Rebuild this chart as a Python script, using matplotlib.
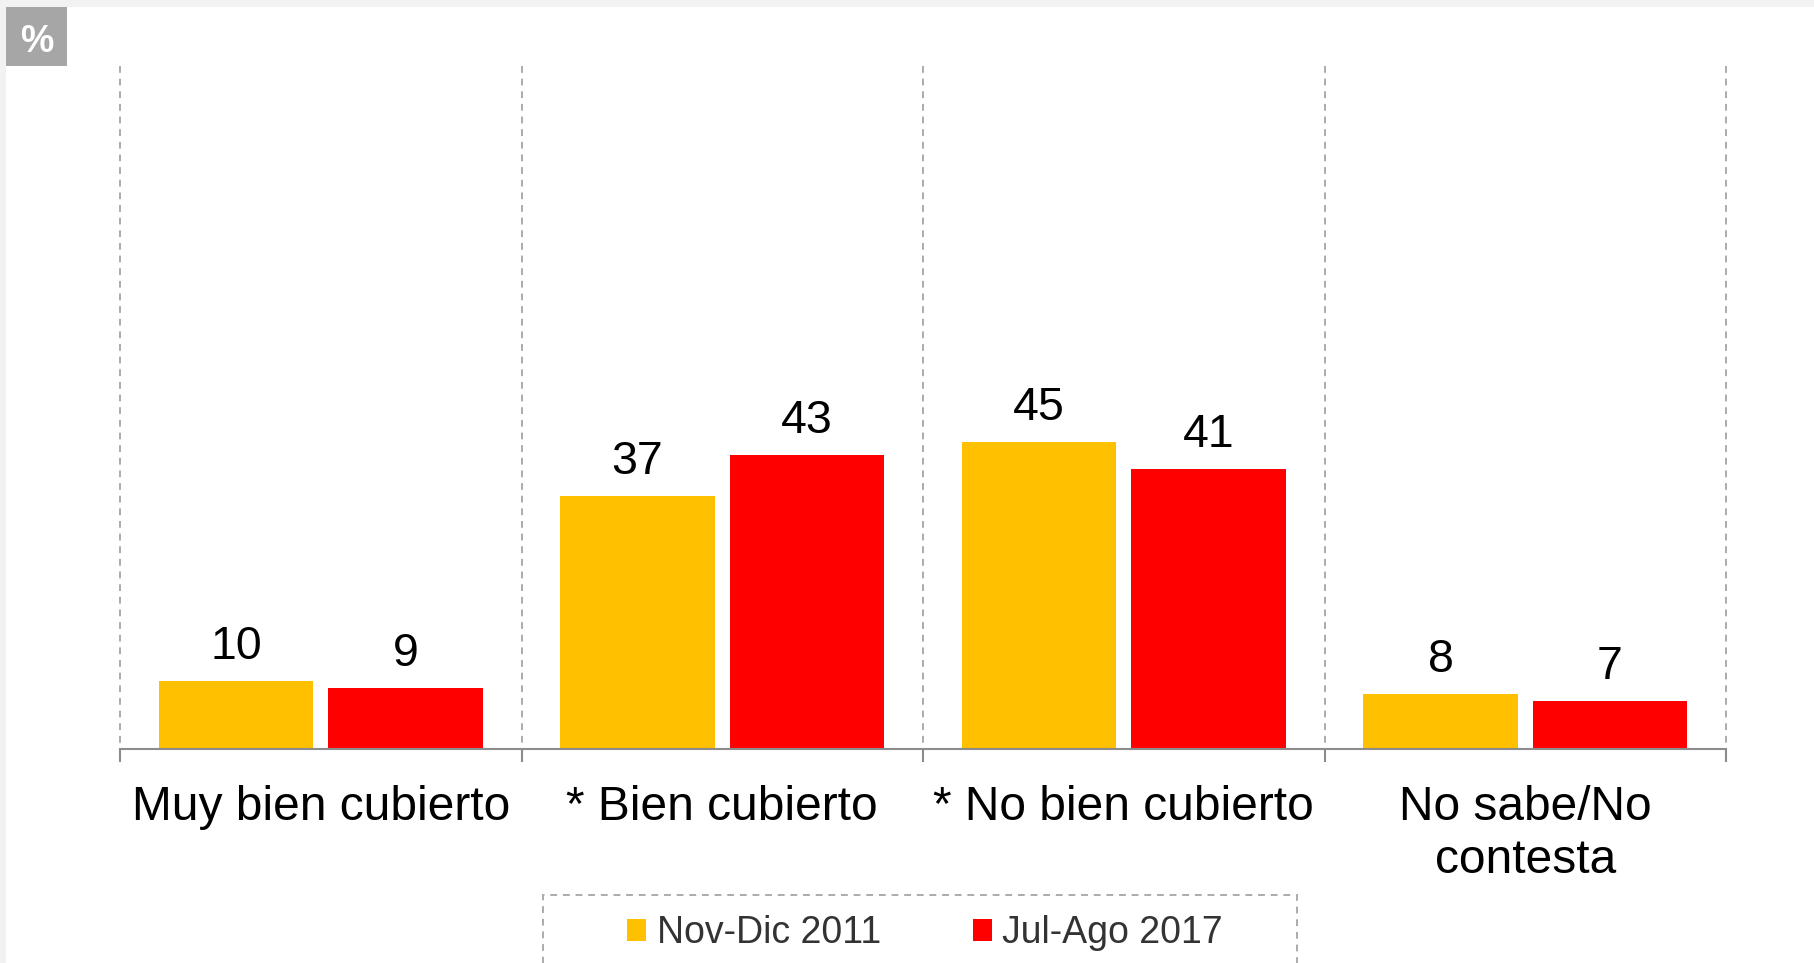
import numpy as np
import matplotlib.pyplot as plt
from matplotlib.patches import Rectangle

plt.rcParams['font.family'] = ['Liberation Sans', 'DejaVu Sans']

categories = ['Muy bien cubierto', '* Bien cubierto', '* No bien cubierto', 'No sabe/No\ncontesta']
series_names = ['Nov-Dic 2011', 'Jul-Ago 2017']
nov_dic_2011 = [10, 37, 45, 8]
jul_ago_2017 = [9, 43, 41, 7]
colors = ['#FFC000', '#FF0000']

W, H = 1814, 963
fig = plt.figure(figsize=(W / 100, H / 100), dpi=100, facecolor='#f2f2f2')
# white page with thin grey strip on top/left
fig.patches.append(Rectangle((6 / W, 0), 1, 1 - 7 / H, transform=fig.transFigure,
                             facecolor='white', edgecolor='none', zorder=-10))

ax = fig.add_axes([120 / W, 1 - 749 / H, (1726 - 120) / W, (749 - 66) / H])
ax.set_facecolor('none')

x = np.arange(len(categories))
bw = 0.384
off = 0.211
bars = []
for vals, c, d, name in zip([nov_dic_2011, jul_ago_2017], colors, [-off, off], series_names):
    b = ax.bar(x + d, vals, width=bw, color=c, label=name, zorder=2)
    bars.append(b)
    for xi, v in zip(x + d, vals):
        ax.annotate(str(v), (xi, v), xytext=(0, 15.8), textcoords='offset points',
                    ha='center', va='baseline', fontsize=33.5, color='black')

ax.set_xlim(-0.5, len(categories) - 0.5)
ax.set_ylim(0, 100)

# vertical dashed separators, dash pattern starting at the top
for b in np.arange(-0.5, len(categories), 1.0):
    ax.plot([b, b], [100, 0], color='#ababab', lw=1.4, dashes=(3.5, 3), zorder=1,
            clip_on=False)

for s in ['top', 'right', 'left']:
    ax.spines[s].set_visible(False)
ax.spines['bottom'].set_color('#8c8c8c')
ax.spines['bottom'].set_linewidth(1.5)
ax.spines['bottom'].set_zorder(3)
ax.set_yticks([])

ax.set_xticks(np.arange(-0.5, len(categories), 1.0))
ax.set_xticklabels([])
ax.tick_params(axis='x', which='major', length=9.5, width=1.5, color='#8c8c8c', direction='out')
ax.set_xticks(x, categories, minor=True)
ax.tick_params(axis='x', which='minor', length=0, pad=26, labelsize=34.5, labelcolor='black')
for lab in ax.get_xticklabels(minor=True):
    lab.set_linespacing(1.22)

# "%" badge
fig.patches.append(Rectangle((6 / W, 1 - 66 / H), 61 / W, 59 / H, transform=fig.transFigure,
                             facecolor='#a6a6a6', edgecolor='none'))
fig.text(36.5 / W, 1 - 38 / H, '%', ha='center', va='center_baseline', fontsize=27,
         fontweight='bold', color='white')

# legend with dashed box
fig.patches.append(Rectangle((543 / W, -0.02), (1297 - 543) / W, 0.02 + (963 - 895) / H,
                             transform=fig.transFigure, facecolor='none', edgecolor='#ababab',
                             lw=1.4, linestyle=(0, (3.5, 3))))
leg = fig.legend(handles=bars, labels=series_names, loc='center', ncol=2,
                 bbox_to_anchor=(925 / W, 1 - 933 / H), frameon=False, fontsize=27,
                 handlelength=0.51, handleheight=0.51, handletextpad=0.27, columnspacing=2.45,
                 borderpad=0, borderaxespad=0)
for t in leg.get_texts():
    t.set_color('#333333')

fig.savefig('out.png', dpi=100, facecolor=fig.get_facecolor())
